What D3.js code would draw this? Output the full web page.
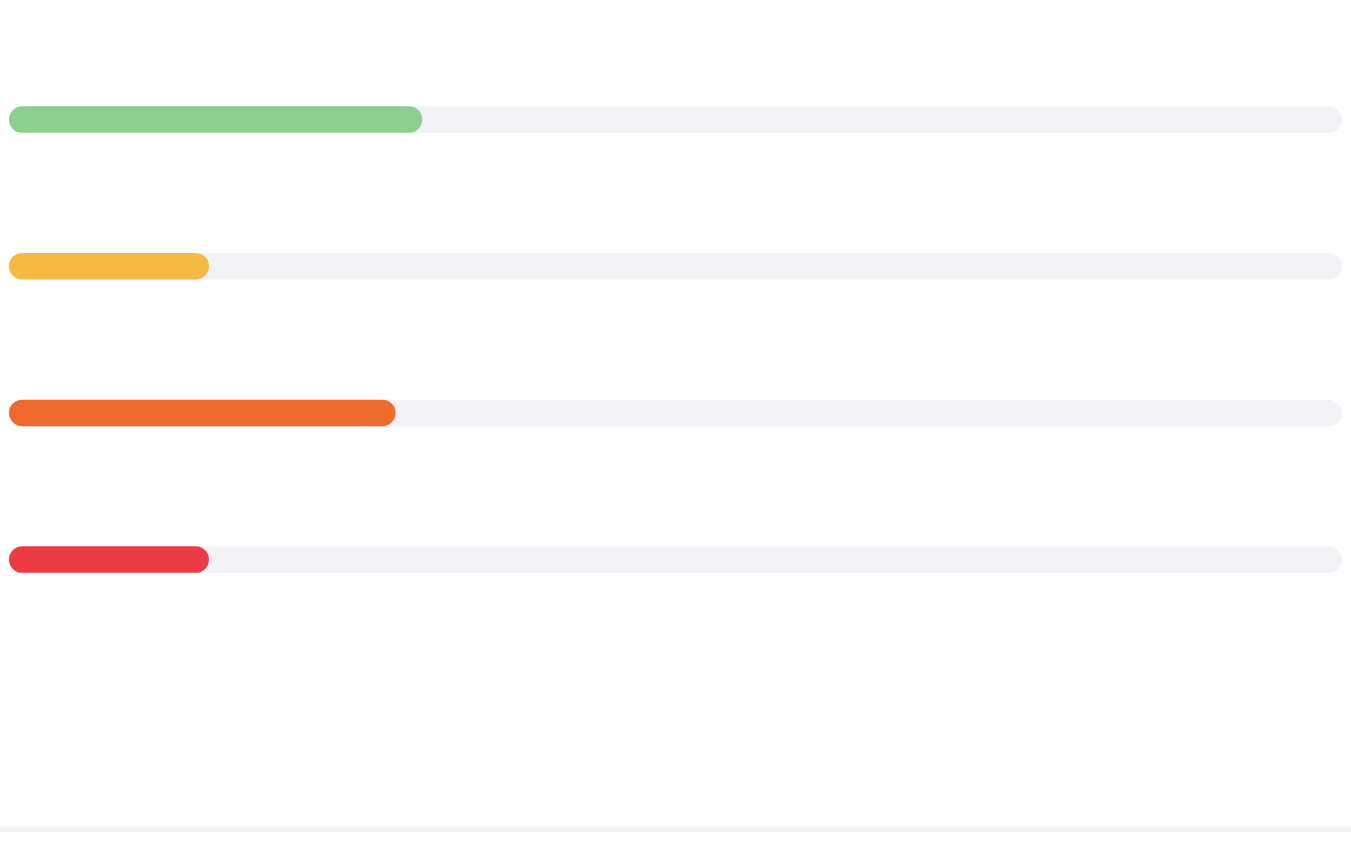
<!DOCTYPE html>
<html>
<head>
<meta charset="utf-8">
<script src="https://cdn.jsdelivr.net/npm/d3@7"></script>
<style>
  html, body { margin: 0; padding: 0; background: #ffffff; }
  svg { display: block; }
</style>
</head>
<body>
<svg id="chart" width="1351" height="848"></svg>
<script>
const categories = ["A", "B", "C", "D"];
const values = [31, 15, 29, 15];
const maxValue = 100;
const colors = ["#8ccf8f", "#f6b942", "#ee6a2d", "#ee3a45"];

const svg = d3.select("#chart");
const W = 1351, H = 848;
const barH = 26.5;

const x = d3.scaleLinear().domain([0, maxValue]).range([9, 1342]);
const y = d3.scaleBand().domain(categories).range([46.2, 632.9]);

const g = svg.append("g");

g.selectAll("rect.track")
  .data(categories)
  .join("rect")
  .attr("class", "track")
  .attr("x", x(0))
  .attr("y", d => y(d) + y.bandwidth() / 2 - barH / 2)
  .attr("width", x(maxValue) - x(0))
  .attr("height", barH)
  .attr("rx", barH / 2)
  .attr("fill", "#f2f3f7");

g.selectAll("rect.bar")
  .data(values)
  .join("rect")
  .attr("class", "bar")
  .attr("x", x(0))
  .attr("y", (d, i) => y(categories[i]) + y.bandwidth() / 2 - barH / 2)
  .attr("width", d => x(d) - x(0))
  .attr("height", barH)
  .attr("rx", barH / 2)
  .attr("fill", (d, i) => colors[i]);

svg.append("rect")
  .attr("x", 0)
  .attr("y", 826.7)
  .attr("width", W)
  .attr("height", 5)
  .attr("fill", "#f2f3f7");
</script>
</body>
</html>
